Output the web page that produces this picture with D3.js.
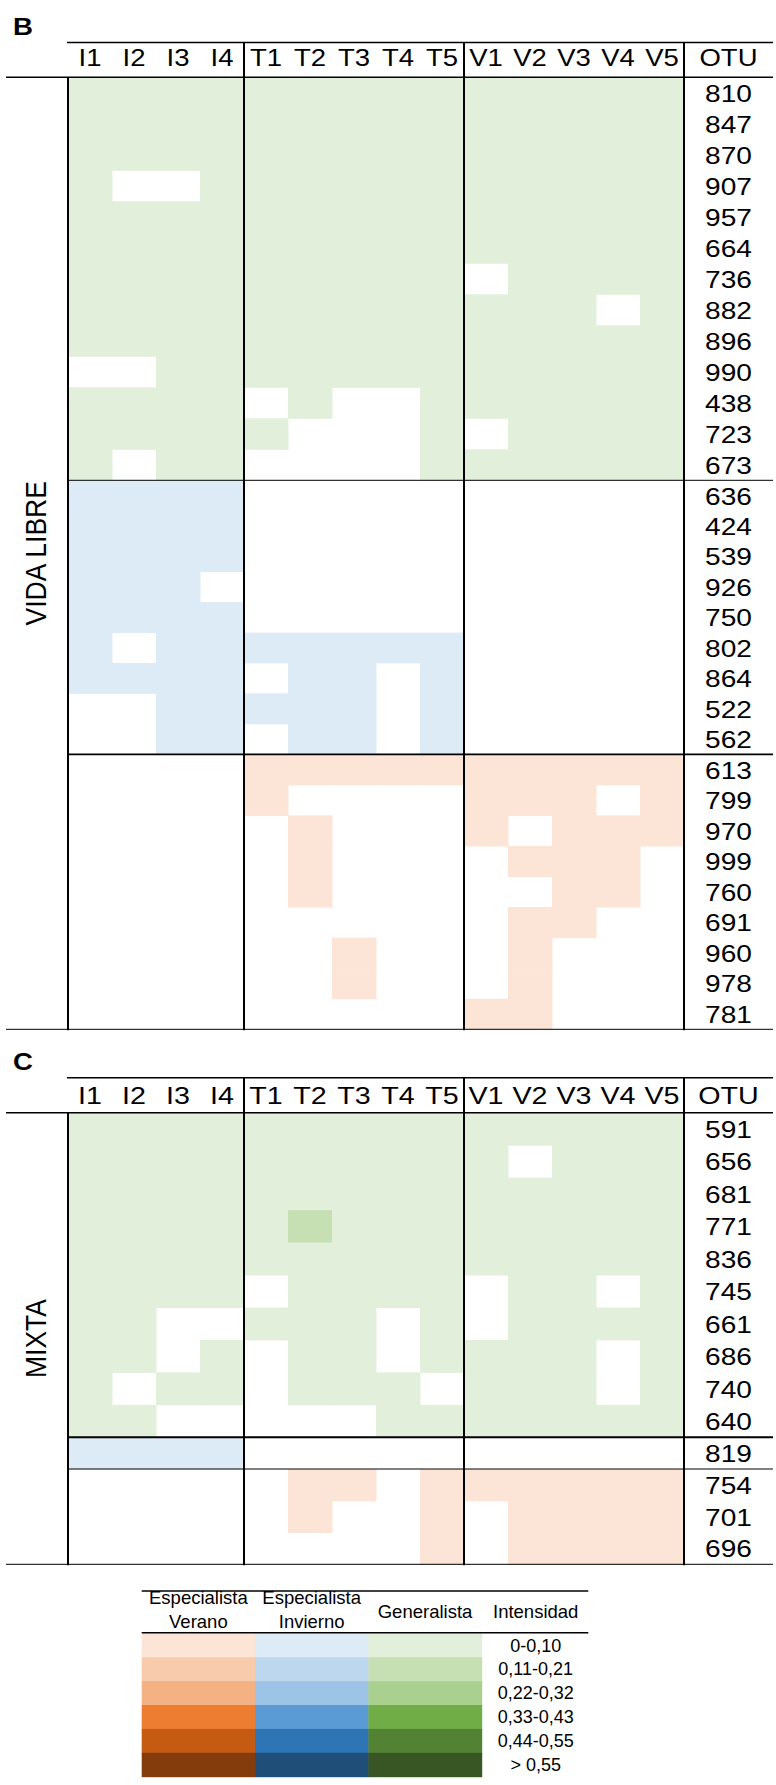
<!DOCTYPE html>
<html>
<head>
<meta charset="utf-8">
<script src="https://cdn.jsdelivr.net/npm/d3@7"></script>
<style>
  html, body { margin: 0; padding: 0; background: #fff; }
  svg { display: block; }
  text { font-family: Arial, "Liberation Sans", sans-serif; fill: #000; }
</style>
</head>
<body>
<svg id="chart" width="776" height="1785"></svg>
<script>
const _ = null;

// ---------- data ----------
const colLabels = ["I1","I2","I3","I4","T1","T2","T3","T4","T5","V1","V2","V3","V4","V5"];
const otuHeader = "OTU";

const intensityLabels = ["0-0,10","0,11-0,21","0,22-0,32","0,33-0,43","0,44-0,55","> 0,55"];
const legendTypes = ["verano","invierno","generalista"];
const legendTitles = [["Especialista","Verano"],["Especialista","Invierno"],["Generalista"]];
const intensityTitle = "Intensidad";

const veranoColors      = ["#FCE4D6","#F8CBAD","#F4B183","#ED7D31","#C55A11","#843C0C"];
const inviernoColors    = ["#DDEBF7","#BDD7EE","#9DC3E6","#5B9BD5","#2E75B6","#1F4E79"];
const generalistaColors = ["#E2EFDA","#C6E0B4","#A9D08E","#70AD47","#548235","#375623"];

// Panel B — VIDA LIBRE
const bGeneralistaOTU = ["810","847","870","907","957","664","736","882","896","990","438","723","673"];
const bGeneralistaVals = [
  [0,0,0,0, 0,0,0,0,0, 0,0,0,0,0],
  [0,0,0,0, 0,0,0,0,0, 0,0,0,0,0],
  [0,0,0,0, 0,0,0,0,0, 0,0,0,0,0],
  [0,_,_,0, 0,0,0,0,0, 0,0,0,0,0],
  [0,0,0,0, 0,0,0,0,0, 0,0,0,0,0],
  [0,0,0,0, 0,0,0,0,0, 0,0,0,0,0],
  [0,0,0,0, 0,0,0,0,0, _,0,0,0,0],
  [0,0,0,0, 0,0,0,0,0, 0,0,0,_,0],
  [0,0,0,0, 0,0,0,0,0, 0,0,0,0,0],
  [_,_,0,0, 0,0,0,0,0, 0,0,0,0,0],
  [0,0,0,0, _,0,_,_,0, 0,0,0,0,0],
  [0,0,0,0, 0,_,_,_,0, _,0,0,0,0],
  [0,_,0,0, _,_,_,_,0, 0,0,0,0,0]
];
const bInviernoOTU = ["636","424","539","926","750","802","864","522","562"];
const bInviernoVals = [
  [0,0,0,0, _,_,_,_,_, _,_,_,_,_],
  [0,0,0,0, _,_,_,_,_, _,_,_,_,_],
  [0,0,0,0, _,_,_,_,_, _,_,_,_,_],
  [0,0,0,_, _,_,_,_,_, _,_,_,_,_],
  [0,0,0,0, _,_,_,_,_, _,_,_,_,_],
  [0,_,0,0, 0,0,0,0,0, _,_,_,_,_],
  [0,0,0,0, _,0,0,_,0, _,_,_,_,_],
  [_,_,0,0, 0,0,0,_,0, _,_,_,_,_],
  [_,_,0,0, _,0,0,_,0, _,_,_,_,_]
];
const bVeranoOTU = ["613","799","970","999","760","691","960","978","781"];
const bVeranoVals = [
  [_,_,_,_, 0,0,0,0,0, 0,0,0,0,0],
  [_,_,_,_, 0,_,_,_,_, 0,0,0,_,0],
  [_,_,_,_, _,0,_,_,_, 0,_,0,0,0],
  [_,_,_,_, _,0,_,_,_, _,0,0,0,_],
  [_,_,_,_, _,0,_,_,_, _,_,0,0,_],
  [_,_,_,_, _,_,_,_,_, _,0,0,_,_],
  [_,_,_,_, _,_,0,_,_, _,0,_,_,_],
  [_,_,_,_, _,_,0,_,_, _,0,_,_,_],
  [_,_,_,_, _,_,_,_,_, 0,0,_,_,_]
];

// Panel C — MIXTA
const cGeneralistaOTU = ["591","656","681","771","836","745","661","686","740","640"];
const cGeneralistaVals = [
  [0,0,0,0, 0,0,0,0,0, 0,0,0,0,0],
  [0,0,0,0, 0,0,0,0,0, 0,_,0,0,0],
  [0,0,0,0, 0,0,0,0,0, 0,0,0,0,0],
  [0,0,0,0, 0,1,0,0,0, 0,0,0,0,0],
  [0,0,0,0, 0,0,0,0,0, 0,0,0,0,0],
  [0,0,0,0, _,0,0,0,0, _,0,0,_,0],
  [0,0,_,_, 0,0,0,_,0, _,0,0,0,0],
  [0,0,_,0, _,0,0,_,0, 0,0,0,_,0],
  [0,_,0,0, _,0,0,0,_, 0,0,0,_,0],
  [0,0,_,_, _,_,_,0,0, 0,0,0,0,0]
];
const cInviernoOTU = ["819"];
const cInviernoVals = [
  [0,0,0,0, _,_,_,_,_, _,_,_,_,_]
];
const cVeranoOTU = ["754","701","696"];
const cVeranoVals = [
  [_,_,_,_, _,0,0,_,0, 0,0,0,0,0],
  [_,_,_,_, _,0,_,_,0, _,0,0,0,0],
  [_,_,_,_, _,_,_,_,0, _,0,0,0,0]
];

// ---------- layout ----------
const svg = d3.select("#chart");
const colors = { verano: veranoColors, invierno: inviernoColors, generalista: generalistaColors };

const gridLeft = 68, gridRight = 684, tableRight = 773, lineLeft = 6;
const x = d3.scaleBand().domain(colLabels).range([gridLeft, gridRight]);
const otuX = (gridRight + tableRight) / 2;
const SX = 1.17; // horizontal stretch of the original text

function stretchedText(g, tx, ty, str, size, opts = {}) {
  const sx = opts.sx || SX;
  const rot = opts.rotate ? ` rotate(${opts.rotate})` : "";
  return g.append("text")
    .attr("transform", `translate(${tx},${ty}) scale(${sx},1)${rot}`)
    .attr("text-anchor", opts.anchor || "middle")
    .attr("font-size", size)
    .attr("font-weight", opts.weight || "normal")
    .text(str);
}

function drawPanel(cfg) {
  const g = svg.append("g");
  cfg.sections.forEach(sec => {
    const y = d3.scaleBand().domain(sec.otu).range([sec.y0, sec.y1]);
    const cells = [];
    sec.vals.forEach((row, i) => row.forEach((v, j) => {
      if (v !== null) cells.push({ otu: sec.otu[i], col: colLabels[j], v });
    }));
    g.append("g").selectAll("rect").data(cells).join("rect")
      .attr("x", d => x(d.col))
      .attr("y", d => y(d.otu))
      .attr("width", x.bandwidth() + 0.5)
      .attr("height", y.bandwidth() + 0.5)
      .attr("fill", d => colors[sec.type][d.v]);
    g.append("g").selectAll("text").data(sec.otu).join("text")
      .attr("transform", d => `translate(${otuX},${y(d) + y.bandwidth() / 2 + 9}) scale(${SX},1)`)
      .attr("text-anchor", "middle")
      .attr("font-size", 24)
      .text(d => d);
  });
  const top = cfg.top, hb = cfg.headerBottom, bottom = cfg.sections[cfg.sections.length - 1].y1;
  g.append("g").selectAll("text").data(colLabels).join("text")
    .attr("transform", d => `translate(${x(d) + x.bandwidth() / 2},${cfg.headerBase}) scale(${SX},1)`)
    .attr("text-anchor", "middle")
    .attr("font-size", cfg.headerSize)
    .text(d => d);
  stretchedText(g, otuX, cfg.headerBase, otuHeader, cfg.headerSize);
  stretchedText(g, 13, cfg.letterBase, cfg.letter, 23, { anchor: "start", weight: "bold", sx: 1.2 });
  stretchedText(g, 45.5, (hb + bottom) / 2, cfg.side, 26.5, { rotate: -90, sx: 1.08 });

  const L = (x1, y1, x2, y2, w) => g.append("line")
    .attr("x1", x1).attr("y1", y1).attr("x2", x2).attr("y2", y2)
    .attr("stroke", "#000").attr("stroke-width", w);
  L(gridLeft - 1, top, tableRight, top, 1.6);
  L(lineLeft, hb, tableRight, hb, 1.6);
  cfg.sections.slice(0, -1).forEach((s, i) => L(gridLeft, s.y1, tableRight, s.y1, cfg.dividerW[i]));
  L(lineLeft, bottom, tableRight, bottom, 1);
  L(gridLeft, hb, gridLeft, bottom + 1, 2);
  ["T1", "V1"].forEach(c => L(x(c), top, x(c), bottom + 1, 2));
  L(gridRight, top, gridRight, bottom + 1, 2);
}

drawPanel({
  letter: "B", letterBase: 35, side: "VIDA LIBRE",
  top: 42.5, headerBottom: 77.3, headerBase: 65.5, headerSize: 23.5,
  dividerW: [1, 1.7],
  sections: [
    { type: "generalista", otu: bGeneralistaOTU, vals: bGeneralistaVals, y0: 77.3, y1: 480.3 },
    { type: "invierno", otu: bInviernoOTU, vals: bInviernoVals, y0: 480.3, y1: 754.3 },
    { type: "verano", otu: bVeranoOTU, vals: bVeranoVals, y0: 754.3, y1: 1029.3 }
  ]
});

drawPanel({
  letter: "C", letterBase: 1070, side: "MIXTA",
  top: 1077.7, headerBottom: 1112.7, headerBase: 1103.5, headerSize: 24.5,
  dividerW: [2, 1],
  sections: [
    { type: "generalista", otu: cGeneralistaOTU, vals: cGeneralistaVals, y0: 1112.7, y1: 1437.3 },
    { type: "invierno", otu: cInviernoOTU, vals: cInviernoVals, y0: 1437.3, y1: 1469 },
    { type: "verano", otu: cVeranoOTU, vals: cVeranoVals, y0: 1469, y1: 1564.3 }
  ]
});

// ---------- legend ----------
const lg = svg.append("g");
const legLeft = 141.7, legColsRight = 481.7, legRight = 588.3;
const legTop = 1591, legHead = 1632.7, legRowH = 23.9;
const lx = d3.scaleBand().domain(legendTypes).range([legLeft, legColsRight]);
const ly = d3.scaleBand().domain(intensityLabels).range([legHead + 0.6, legHead + 0.6 + legRowH * intensityLabels.length]);
const intX = (legColsRight + legRight) / 2 + 0.7;

legendTypes.forEach(t => {
  lg.append("g").selectAll("rect").data(intensityLabels).join("rect")
    .attr("x", lx(t)).attr("y", d => ly(d))
    .attr("width", lx.bandwidth() + 0.5).attr("height", ly.bandwidth() + 0.5)
    .attr("fill", (d, i) => colors[t][i]);
});
lg.append("g").selectAll("text").data(intensityLabels).join("text")
  .attr("x", intX).attr("y", d => ly(d) + ly.bandwidth() / 2 + 6.3)
  .attr("text-anchor", "middle").attr("font-size", 18)
  .text(d => d);

legendTypes.forEach((t, i) => {
  const lines = legendTitles[i];
  const cx = lx(t) + lx.bandwidth() / 2;
  const baseY = lines.length === 2 ? [1604.3, 1628.3] : [1618.3];
  lines.forEach((s, k) => lg.append("text")
    .attr("x", cx).attr("y", baseY[k]).attr("text-anchor", "middle")
    .attr("font-size", 18.5).text(s));
});
lg.append("text").attr("x", intX).attr("y", 1618.3).attr("text-anchor", "middle")
  .attr("font-size", 18.5).text(intensityTitle);

lg.append("rect").attr("x", legLeft - 2).attr("y", legTop - 12).attr("width", legRight - legLeft + 4).attr("height", 12).attr("fill", "#fff");
lg.append("line").attr("x1", legLeft).attr("x2", legRight).attr("y1", legTop).attr("y2", legTop).attr("stroke", "#000").attr("stroke-width", 1.6);
lg.append("line").attr("x1", legLeft).attr("x2", legRight).attr("y1", legHead).attr("y2", legHead).attr("stroke", "#000").attr("stroke-width", 1.6);
</script>
</body>
</html>
